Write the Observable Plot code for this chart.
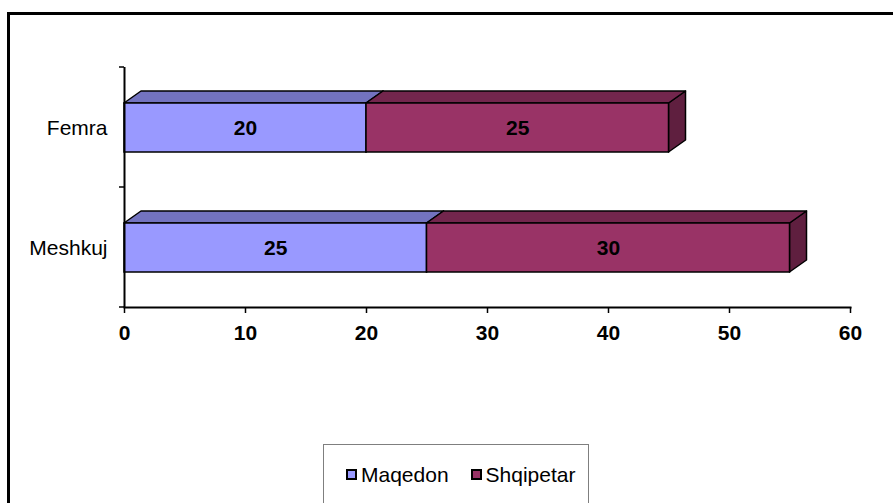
<!DOCTYPE html>
<html>
<head>
<meta charset="utf-8">
<script src="https://cdn.jsdelivr.net/npm/d3@7"></script>
<script src="https://cdn.jsdelivr.net/npm/@observablehq/plot@0.6"></script>
<style>
html, body { margin: 0; padding: 0; background: #fff; }
#wrap { position: relative; width: 893px; height: 503px; overflow: hidden; font-family: "Liberation Sans", Arial, sans-serif; }
#chart { position: absolute; left: 0; top: 0; }
#border { position: absolute; left: 7px; top: 12px; right: -10px; bottom: -10px; border-top: 3px solid #000; border-left: 3px solid #000; pointer-events: none; }
#legend { position: absolute; left: 323px; top: 444px; width: 266px; height: 80px; border: 1px solid #7f7f7f; background: #fff; box-sizing: border-box; }
#legend .items { display: flex; align-items: center; margin-left: 22px; margin-top: 18px; font-size: 21px; line-height: 24px; color: #000; }
#legend .sw { width: 7px; height: 7px; border: 2px solid #000; margin-right: 4px; margin-top: -2px; }
#legend .item { display: flex; align-items: center; }
#legend .item + .item { margin-left: 22px; }
</style>
</head>
<body>
<div id="wrap">
  <div id="chart"></div>
  <div id="legend"><div class="items"></div></div>
  <div id="border"></div>
</div>
<script>
// ---- data ----
const categories = ["Femra", "Meshkuj"];
const series = ["Maqedon", "Shqipetar"];
const maqedon = [20, 25];
const shqipetar = [25, 30];
const xTicks = [0, 10, 20, 30, 40, 50, 60];
const frontColors = ["#9999ff", "#993366"];
const topColors = ["#7373bf", "#73264d"];
const sideColors = ["#5f5f9f", "#5f1f3f"];

const rows = [];
categories.forEach((c, i) => {
  rows.push({cat: c, group: series[0], value: maqedon[i]});
  rows.push({cat: c, group: series[1], value: shqipetar[i]});
});

const depthX = 17, depthY = -12;

function bar3d(index, scales, values, dims, ctx, next) {
  const g = next(index, scales, values, dims, ctx);
  const rects = Array.from(g.querySelectorAll("rect"));
  if (!rects.length) return g;
  const ns = "http://www.w3.org/2000/svg";
  const first = rects[0];
  const sides = [], tops = [];
  rects.forEach((r, j) => {
    const x = +r.getAttribute("x"), y = +r.getAttribute("y");
    const w = +r.getAttribute("width"), h = +r.getAttribute("height");
    const k = series.indexOf(rows[index[j]].group);
    const side = document.createElementNS(ns, "polygon");
    side.setAttribute("points", `${x + w},${y} ${x + w + depthX},${y + depthY} ${x + w + depthX},${y + h + depthY} ${x + w},${y + h}`);
    side.setAttribute("fill", sideColors[k]);
    const top = document.createElementNS(ns, "polygon");
    top.setAttribute("points", `${x},${y} ${x + depthX},${y + depthY} ${x + w + depthX},${y + depthY} ${x + w},${y}`);
    top.setAttribute("fill", topColors[k]);
    for (const p of [side, top]) {
      p.setAttribute("stroke", "#000");
      p.setAttribute("stroke-width", 1.5);
      p.setAttribute("stroke-linejoin", "round");
    }
    sides.push(side); tops.push(top);
  });
  for (const s of sides) g.insertBefore(s, first);
  for (const t of tops) g.insertBefore(t, first);
  return g;
}

function bandTicks(index, scales, values, dims) {
  const y = scales.y;
  const bw = typeof y.bandwidth === "function" ? y.bandwidth() : scales.scales.y.bandwidth;
  const x0 = dims.marginLeft;
  const g = d3.create("svg:g");
  const edges = new Set();
  for (const i of index) {
    const t = y(categories[i]);
    edges.add(t); edges.add(t + bw);
  }
  for (const e of edges) {
    g.append("line").attr("x1", x0 - 5).attr("x2", x0).attr("y1", e).attr("y2", e)
      .attr("stroke", "#000").attr("stroke-width", 1.5);
  }
  return g.node();
}

const plot = Plot.plot({
  width: 893,
  height: 503,
  marginLeft: 124,
  marginRight: 43,
  marginTop: 67,
  marginBottom: 196,
  style: {fontFamily: "'Liberation Sans', Arial, sans-serif", color: "#000", background: "transparent"},
  x: {domain: [0, 60], label: null},
  y: {domain: categories, padding: 0, label: null},
  color: {domain: series, range: frontColors},
  marks: [
    Plot.barX(rows, Plot.stackX({
      x: "value", y: "cat", fill: "group", stroke: "#000", strokeWidth: 1.5,
      insetTop: 36, insetBottom: 35, render: bar3d
    })),
    Plot.text(rows, Plot.stackX({
      x: "value", y: "cat", text: "value", fontWeight: "bold", fontSize: 21, fill: "#000", dy: 1
    })),
    Plot.ruleX([0], {stroke: "#000", strokeWidth: 2}),
    Plot.frame({anchor: "bottom", stroke: "#000", strokeWidth: 2}),
    Plot.ruleY(categories.map((c, i) => i), {y: (i) => categories[i], render: bandTicks}),
    Plot.axisX({ticks: xTicks, tickSize: 6, tickPadding: 12, fontWeight: "bold", fontSize: 21, strokeWidth: 1.5, label: null}),
    Plot.axisY({tickSize: 0, tickPadding: 17, fontSize: 21, label: null, dy: 1})
  ]
});
document.getElementById("chart").appendChild(plot);

const items = document.querySelector("#legend .items");
series.forEach((s, k) => {
  const it = document.createElement("div");
  it.className = "item";
  const sw = document.createElement("div");
  sw.className = "sw";
  sw.style.background = frontColors[k];
  const tx = document.createElement("span");
  tx.textContent = s;
  it.appendChild(sw); it.appendChild(tx);
  items.appendChild(it);
});
</script>
</body>
</html>
